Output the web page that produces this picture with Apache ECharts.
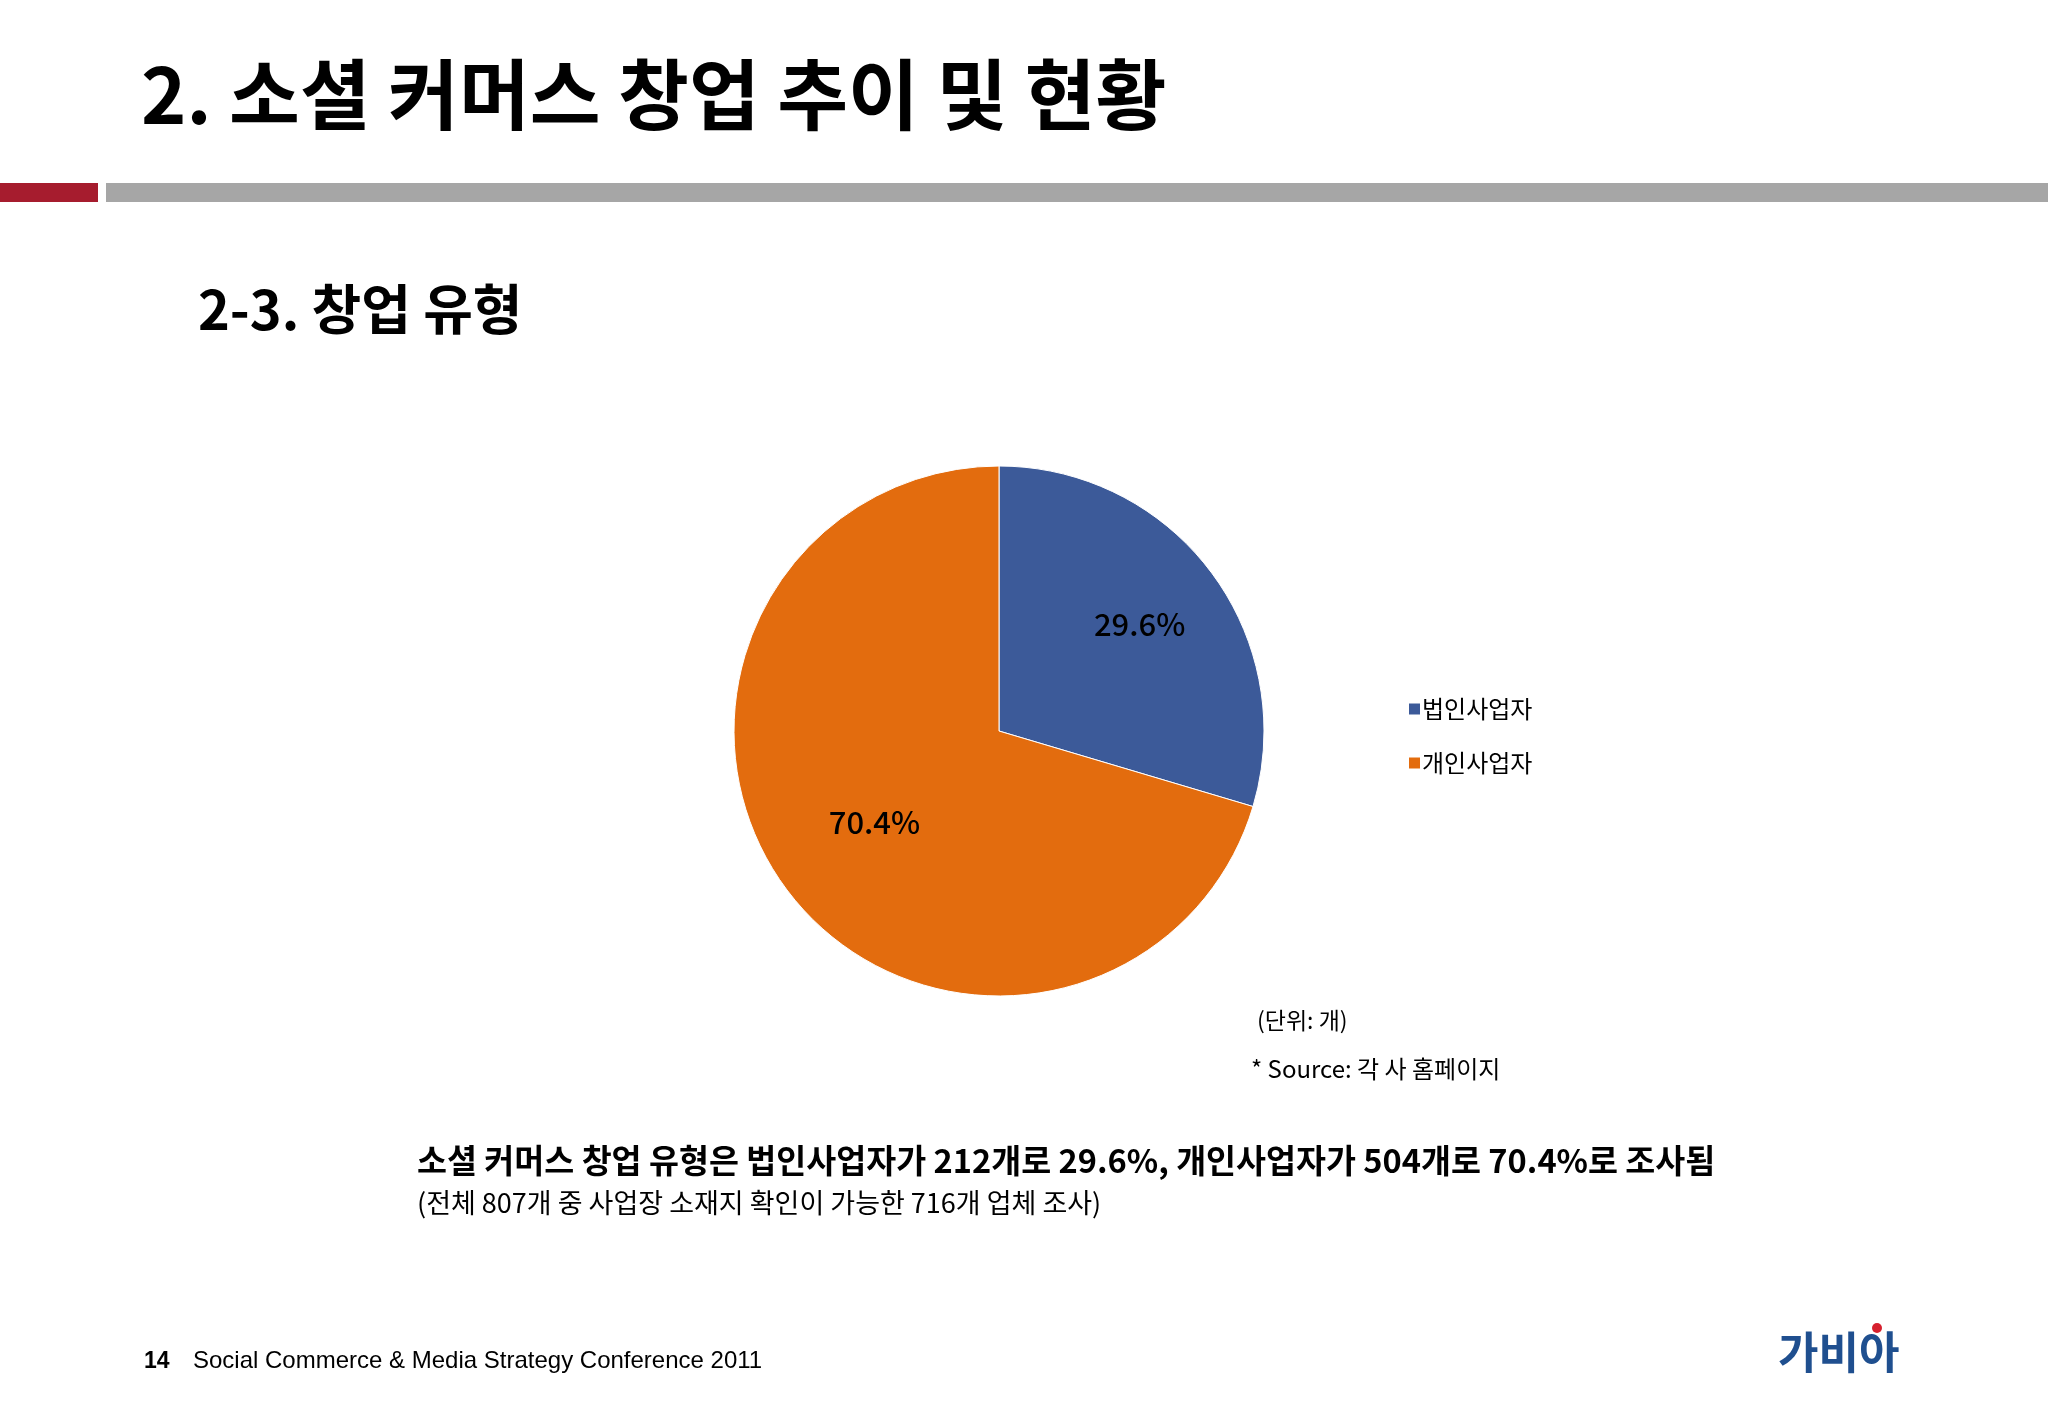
<!DOCTYPE html>
<html>
<head>
<meta charset="utf-8">
<script src="https://cdn.jsdelivr.net/npm/echarts@6/dist/echarts.min.js"></script>
<style>
  html, body { margin: 0; padding: 0; background: #fff; }
  #chart { width: 2048px; height: 1418px; }
</style>
</head>
<body>
<div id="chart"></div>
<script>
const categories = ['법인사업자', '개인사업자'];
const shares = [29.6, 70.4];
const colors = ['#3C5A99', '#E36C0E'];
// nudge of each inner label outward, as in the slide
const labelNudge = [[32, -26], [-16, 10]];

const kr = '"Noto Sans CJK KR", "Noto Sans", sans-serif';
const chart = echarts.init(document.getElementById('chart'));

function txt(x, y, text, size, weight, color, family) {
  return {
    type: 'text', left: x, top: y,
    style: { text: text, font: (weight || 'normal') + ' ' + size + 'px ' + (family || kr), fill: color || '#000' }
  };
}

chart.setOption({
  animation: false,
  legend: {
    orient: 'vertical',
    left: 1402,
    top: 692,
    itemGap: 30,
    itemWidth: 13,
    itemHeight: 13,
    icon: 'rect',
    textStyle: { fontFamily: kr, fontSize: 24, color: '#000', padding: [0, 0, 0, -4] },
    data: categories
  },
  series: [{
    type: 'pie',
    center: [999, 731],
    radius: [0, 265],
    startAngle: 90,
    clockwise: true,
    color: colors,
    itemStyle: { borderColor: '#fff', borderWidth: 1 },
    label: {
      position: 'inner',
      formatter: (p) => p.value.toFixed(1) + '%',
      fontFamily: kr,
      fontSize: 31,
      fontWeight: 500,
      color: '#000'
    },
    labelLine: { show: false },
    emphasis: { disabled: true },
    data: categories.map((c, i) => ({ name: c, value: shares[i], label: { offset: labelNudge[i] } }))
  }],
  graphic: [
    txt(141, 56, '2. 소셜 커머스 창업 추이 및 현황', 77, 'bold'),
    { type: 'rect', shape: { x: 0, y: 183, width: 98, height: 19 }, style: { fill: '#A61C2E' } },
    { type: 'rect', shape: { x: 106, y: 183, width: 1942, height: 19 }, style: { fill: '#A6A6A6' } },
    txt(198, 282, '2-3. 창업 유형', 54, 'bold'),
    txt(1257, 1009, '(단위: 개)', 23),
    txt(1251, 1057, '* Source: 각 사 홈페이지', 24),
    txt(417, 1144, '소셜 커머스 창업 유형은 법인사업자가 212개로 29.6%, 개인사업자가 504개로 70.4%로 조사됨', 32.6, 'bold'),
    txt(417, 1189, '(전체 807개 중 사업장 소재지 확인이 가능한 716개 업체 조사)', 27),
    txt(144, 1350, '14', 23, 'bold', '#000', 'Arial, "Liberation Sans", sans-serif'),
    txt(193, 1349, 'Social Commerce & Media Strategy Conference 2011', 24, 'normal', '#000', 'Arial, "Liberation Sans", sans-serif'),
    txt(1778, 1330, '가비아', 44, 'bold', '#1F4F8F'),
    { type: 'circle', shape: { cx: 1877, cy: 1328, r: 5 }, style: { fill: '#D6202E' } }
  ]
});
</script>
</body>
</html>
